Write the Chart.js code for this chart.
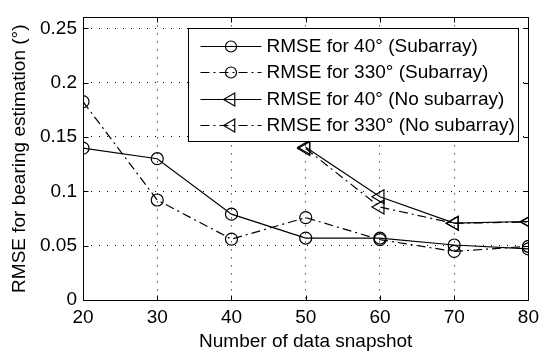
<!DOCTYPE html>
<html>
<head>
<meta charset="utf-8">
<script src="https://cdn.jsdelivr.net/npm/chart.js@4/dist/chart.umd.min.js"></script>
<style>
  html, body { margin: 0; padding: 0; background: #fff; }
</style>
</head>
<body>
<canvas id="rmseChart" width="545" height="356"></canvas>
<script>
// snapshot counts on the x axis
const snapshots = [20, 30, 40, 50, 60, 70, 80];
const snapshotsNoSub = [50, 60, 70, 80];

// RMSE (degrees) per snapshot count
const rmse40Sub = [0.1397, 0.130, 0.079, 0.057, 0.057, 0.0506, 0.047];
const rmse330Sub = [0.1825, 0.092, 0.056, 0.0758, 0.0555, 0.0447, 0.0494];
const rmse40NoSub = [0.1405, 0.095, 0.0707, 0.0722];
const rmse330NoSub = [0.1393, 0.0855, 0.0705, 0.0718];

const seriesLabels = [
    'RMSE for 40° (Subarray)',
    'RMSE for 330° (Subarray)',
    'RMSE for 40° (No subarray)',
    'RMSE for 330° (No subarray)'
];

const xTicks = [20, 30, 40, 50, 60, 70, 80];
const yTicks = [0, 0.05, 0.1, 0.15, 0.2, 0.25];

const xTitle = 'Number of data snapshot';
const yTitle = 'RMSE for bearing estimation (°)';

const fontFamily = '"Liberation Sans", Arial, Helvetica, sans-serif';
const dashDot = [9, 4, 2, 4];

const toPoints = (xs, ys) => xs.map((x, i) => ({ x: x, y: ys[i] }));

const makeSeries = (label, points, dash, marker) => ({
    label: label,
    data: points,
    borderColor: '#000',
    borderWidth: 1.2,
    borderDash: dash,
    fill: false,
    tension: 0,
    pointStyle: marker === 'triangle' ? 'triangle' : 'circle',
    pointRotation: marker === 'triangle' ? -90 : 0,
    pointRadius: marker === 'triangle' ? 8 : 6,
    pointBorderColor: '#000',
    pointBorderWidth: 1.2,
    pointBackgroundColor: 'rgba(0,0,0,0)'
});

// box around the plot area with small inward ticks on every side
const axesBox = {
    id: 'axesBox',
    afterDraw(chart) {
        const { ctx, chartArea: a, scales } = chart;
        const left = Math.round(a.left) + 0.5;
        const right = Math.round(a.right) + 0.5;
        const top = Math.round(a.top) + 0.5;
        const bottom = Math.round(a.bottom) + 0.5;
        const len = 5;
        ctx.save();
        ctx.strokeStyle = '#000';
        ctx.lineWidth = 1;
        ctx.setLineDash([]);
        ctx.strokeRect(left, top, right - left, bottom - top);
        ctx.beginPath();
        xTicks.forEach(v => {
            const px = Math.round(scales.x.getPixelForValue(v)) + 0.5;
            ctx.moveTo(px, bottom); ctx.lineTo(px, bottom - len);
            ctx.moveTo(px, top); ctx.lineTo(px, top + len);
        });
        yTicks.forEach(v => {
            const py = Math.round(scales.y.getPixelForValue(v)) + 0.5;
            ctx.moveTo(left, py); ctx.lineTo(left + len, py);
            ctx.moveTo(right, py); ctx.lineTo(right - len, py);
        });
        ctx.stroke();
        ctx.restore();
    }
};

// legend in a framed white box, line sample with the marker in its middle
const boxedLegend = {
    id: 'boxedLegend',
    afterDraw(chart) {
        const { ctx, chartArea: a } = chart;
        const boxLeft = Math.round(a.left) + 105.5;
        const boxRight = Math.round(a.right) - 9.5;
        const boxTop = Math.round(a.top) + 11.5;
        const boxHeight = 113;
        const rowHeight = 26.5;
        ctx.save();
        ctx.fillStyle = '#fff';
        ctx.fillRect(boxLeft, boxTop, boxRight - boxLeft, boxHeight);
        ctx.strokeStyle = '#000';
        ctx.lineWidth = 1;
        ctx.strokeRect(boxLeft, boxTop, boxRight - boxLeft, boxHeight);

        chart.data.datasets.forEach((ds, i) => {
            const cy = Math.round(boxTop + 17 + i * rowHeight) + 0.5;
            const x0 = boxLeft + 12;
            const x1 = x0 + 61;
            const xm = (x0 + x1) / 2;

            ctx.strokeStyle = '#000';
            ctx.lineWidth = ds.borderWidth;
            ctx.setLineDash(ds.borderDash || []);
            ctx.beginPath();
            ctx.moveTo(x0, cy);
            ctx.lineTo(x1, cy);
            ctx.stroke();

            ctx.setLineDash([]);
            ctx.fillStyle = 'rgba(0,0,0,0)';
            Chart.helpers.drawPoint(ctx, {
                pointStyle: ds.pointStyle,
                rotation: ds.pointRotation,
                radius: ds.pointStyle === 'triangle' ? 7.5 : 5.5,
                borderWidth: ds.pointBorderWidth
            }, xm, cy);

            ctx.fillStyle = '#000';
            ctx.font = '19px ' + fontFamily;
            ctx.textAlign = 'left';
            ctx.textBaseline = 'middle';
            ctx.fillText(ds.label, boxLeft + 78, cy);
        });
        ctx.restore();
    }
};

const ctx = document.getElementById('rmseChart');

new Chart(ctx, {
    type: 'line',
    data: {
        datasets: [
            makeSeries(seriesLabels[0], toPoints(snapshots, rmse40Sub), [], 'circle'),
            makeSeries(seriesLabels[1], toPoints(snapshots, rmse330Sub), dashDot, 'circle'),
            makeSeries(seriesLabels[2], toPoints(snapshotsNoSub, rmse40NoSub), [], 'triangle'),
            makeSeries(seriesLabels[3], toPoints(snapshotsNoSub, rmse330NoSub), dashDot, 'triangle')
        ]
    },
    options: {
        responsive: false,
        animation: false,
        devicePixelRatio: 1,
        layout: { padding: { top: 5, right: 12, left: 0, bottom: 0 } },
        plugins: {
            legend: { display: false },
            tooltip: { enabled: false }
        },
        scales: {
            x: {
                type: 'linear',
                min: 20,
                max: 80,
                afterBuildTicks: scale => { scale.ticks = xTicks.map(v => ({ value: v })); },
                afterFit: scale => { scale.height = 56; },
                grid: { color: '#000', lineWidth: 1, drawTicks: false },
                border: { display: false, dash: [1, 7] },
                ticks: {
                    color: '#000',
                    font: { family: fontFamily, size: 19 },
                    padding: 6,
                    maxRotation: 0,
                    autoSkip: false
                },
                title: {
                    display: true,
                    text: xTitle,
                    color: '#000',
                    font: { family: fontFamily, size: 19, lineHeight: 1.2 },
                    padding: { top: 0, bottom: 3 }
                }
            },
            y: {
                type: 'linear',
                min: 0,
                max: 0.26,
                afterBuildTicks: scale => { scale.ticks = yTicks.map(v => ({ value: v })); },
                afterFit: scale => { scale.width = 83; },
                grid: { color: '#000', lineWidth: 1, drawTicks: false },
                border: { display: false, dash: [1, 7] },
                ticks: {
                    color: '#000',
                    font: { family: fontFamily, size: 19 },
                    padding: 6,
                    callback: v => String(+v.toFixed(2))
                },
                title: {
                    display: true,
                    text: yTitle,
                    color: '#000',
                    font: { family: fontFamily, size: 19, lineHeight: 1.2 },
                    padding: { top: 8, bottom: 0 }
                }
            }
        }
    },
    plugins: [axesBox, boxedLegend]
});
</script>
</body>
</html>
